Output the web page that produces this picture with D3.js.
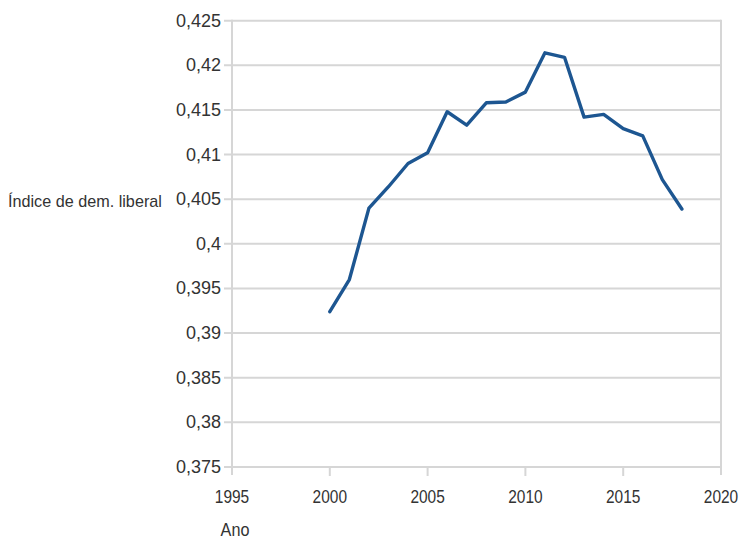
<!DOCTYPE html>
<html>
<head>
<meta charset="utf-8">
<script src="https://cdn.jsdelivr.net/npm/d3@7"></script>
<style>
  html, body { margin: 0; padding: 0; background: #fff; }
  svg text { font-family: "Liberation Sans", Arial, sans-serif; fill: #333; }
</style>
</head>
<body>
<svg id="chart" width="740" height="540"></svg>
<script>
// Liberal democracy index by year
const years = [2000, 2001, 2002, 2003, 2004, 2005, 2006, 2007, 2008, 2009,
               2010, 2011, 2012, 2013, 2014, 2015, 2016, 2017, 2018];
const values = [0.3924, 0.3960, 0.4040, 0.4064, 0.4090, 0.4102, 0.4148, 0.4133, 0.4158, 0.4159,
                0.4170, 0.4214, 0.4209, 0.4142, 0.4145, 0.4129, 0.4121, 0.4072, 0.4039];
const xTicks = [1995, 2000, 2005, 2010, 2015, 2020];
const yTicks = [0.375, 0.38, 0.385, 0.39, 0.395, 0.4, 0.405, 0.41, 0.415, 0.42, 0.425];
const yTitle = "Índice de dem. liberal";
const xTitle = "Ano";

const svg = d3.select("#chart");
const plotLeft = 232, plotRight = 721, plotTop = 20.7, plotBottom = 467;

const x = d3.scaleLinear().domain([1995, 2020]).range([plotLeft, plotRight]);
const y = d3.scaleLinear().domain([0.375, 0.425]).range([plotBottom, plotTop]);

const fmt = v => String(+v.toFixed(3)).replace(".", ",");
const gridColor = "#d6d6d6";

// horizontal grid lines with short ticks to the left
svg.append("g").selectAll("line").data(yTicks).join("line")
  .attr("x1", plotLeft - 8).attr("x2", plotRight)
  .attr("y1", d => y(d)).attr("y2", d => y(d))
  .attr("stroke", gridColor).attr("stroke-width", 2);

// left axis and right border
svg.append("line").attr("x1", plotLeft).attr("x2", plotLeft).attr("y1", plotTop - 1).attr("y2", plotBottom + 8)
  .attr("stroke", gridColor).attr("stroke-width", 2);
svg.append("line").attr("x1", plotRight).attr("x2", plotRight).attr("y1", plotTop - 1).attr("y2", plotBottom + 8)
  .attr("stroke", gridColor).attr("stroke-width", 2);

// x ticks below the baseline
svg.append("g").selectAll("line").data(xTicks.slice(1, -1)).join("line")
  .attr("x1", d => x(d)).attr("x2", d => x(d))
  .attr("y1", plotBottom).attr("y2", plotBottom + 9)
  .attr("stroke", gridColor).attr("stroke-width", 2);

// y tick labels
svg.append("g").selectAll("text").data(yTicks).join("text")
  .attr("x", plotLeft - 11).attr("y", d => y(d) + 6)
  .attr("text-anchor", "end").attr("font-size", 18)
  .text(fmt);

// x tick labels, slightly condensed
svg.append("g").selectAll("text").data(xTicks).join("text")
  .attr("transform", d => `translate(${x(d)},${plotBottom + 36}) scale(0.86,1)`)
  .attr("text-anchor", "middle").attr("font-size", 18)
  .text(d => d);

// axis titles
svg.append("text").attr("x", 8).attr("y", 207).attr("font-size", 16.2).text(yTitle);
svg.append("text").attr("transform", `translate(235,536) scale(0.9,1)`)
  .attr("text-anchor", "middle").attr("font-size", 18).text(xTitle);

// data line
const line = d3.line().x((d, i) => x(years[i])).y(d => y(d));
svg.append("path").datum(values)
  .attr("d", line)
  .attr("fill", "none").attr("stroke", "#1d5691").attr("stroke-width", 3.4)
  .attr("stroke-linejoin", "round").attr("stroke-linecap", "round");
</script>
</body>
</html>
